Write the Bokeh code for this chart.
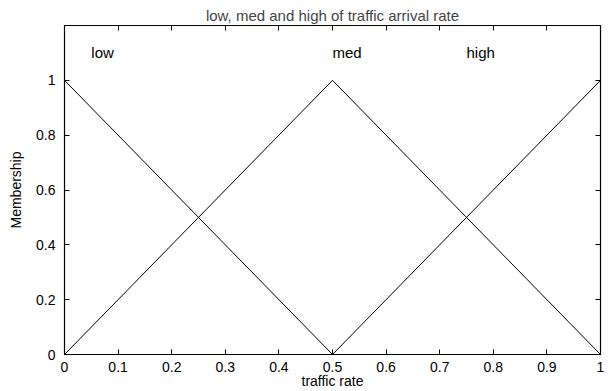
from bokeh.plotting import figure
from bokeh.models import Range1d, LinearAxis, FixedTicker
from bokeh.core.properties import value
from bokeh.embed import file_html
from bokeh.resources import INLINE

# ---- data ----
rate_low = [0.0, 0.5, 1.0]
mf_low = [1.0, 0.0, 0.0]
rate_med = [0.0, 0.5, 1.0]
mf_med = [0.0, 1.0, 0.0]
rate_high = [0.0, 0.5, 1.0]
mf_high = [0.0, 0.0, 1.0]

mf_names = ["low", "med", "high"]
name_x = [0.05, 0.5, 0.75]
name_y = [1.1, 1.1, 1.1]

x_ticks = [0, 0.1, 0.2, 0.3, 0.4, 0.5, 0.6, 0.7, 0.8, 0.9, 1.0]
x_tick_labels = ["0", "0.1", "0.2", "0.3", "0.4", "0.5", "0.6", "0.7", "0.8", "0.9", "1"]
y_ticks = [0, 0.2, 0.4, 0.6, 0.8, 1.0]
y_tick_labels = ["0", "0.2", "0.4", "0.6", "0.8", "1"]

FONT = "Liberation Sans"
FS = "14px"
FS_BIG = "15px"

p = figure(width=608, height=391, output_backend="svg", toolbar_location=None,
           x_range=Range1d(0, 1), y_range=Range1d(0, 1.2),
           title="low, med and high of traffic arrival rate",
           min_border_left=64, min_border_right=8, min_border_top=25, min_border_bottom=37)

p.title.text_font = FONT
p.title.text_font_size = FS_BIG
p.title.text_font_style = "normal"
p.title.align = "center"
p.title.standoff = 4
p.title.offset = 0

p.grid.visible = False
p.outline_line_color = "black"
p.outline_line_width = 1.2
p.background_fill_color = "white"
p.border_fill_color = "white"

for xs, ys in [(rate_low, mf_low), (rate_med, mf_med), (rate_high, mf_high)]:
    p.line(xs, ys, line_color="black", line_width=1)

p.text(x=name_x, y=name_y, text=mf_names, text_font=value(FONT), text_font_size=FS_BIG,
       text_color="black", text_baseline="middle", text_align="left")

def style_axis(ax, ticks, labels, show_labels=True):
    ax.ticker = FixedTicker(ticks=ticks)
    ax.major_label_overrides = {t: l for t, l in zip(ticks, labels)}
    ax.minor_tick_line_color = None
    ax.major_tick_in = 5
    ax.major_tick_out = 0
    ax.major_tick_line_color = "black"
    ax.axis_line_color = None
    ax.major_label_text_font = FONT
    ax.major_label_text_font_size = FS
    ax.major_label_text_color = "black"
    ax.axis_label_text_font = FONT
    ax.axis_label_text_font_size = FS
    ax.axis_label_text_font_style = "normal"
    ax.axis_label_text_color = "black"
    if not show_labels:
        ax.major_label_text_font_size = "0px"
        ax.major_label_standoff = 0

xa = p.xaxis[0]
style_axis(xa, x_ticks, x_tick_labels)
xa.axis_label = "traffic rate"
xa.major_label_standoff = 7
xa.axis_label_standoff = -2

ya = p.yaxis[0]
style_axis(ya, y_ticks, y_tick_labels)
ya.axis_label = "Membership"
ya.major_label_standoff = 9
ya.axis_label_standoff = 9

top = LinearAxis()
style_axis(top, x_ticks, x_tick_labels, show_labels=False)
p.add_layout(top, "above")

right = LinearAxis()
style_axis(right, y_ticks, y_tick_labels, show_labels=False)
p.add_layout(right, "right")

open("out.html", "w").write(file_html(p, INLINE))
